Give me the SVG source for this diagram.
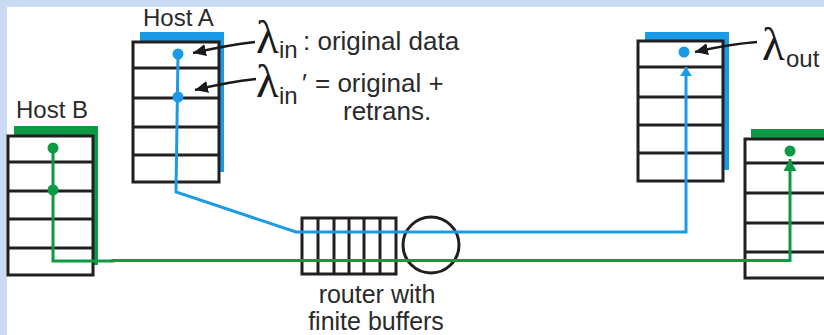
<svg xmlns="http://www.w3.org/2000/svg" width="824" height="335" viewBox="0 0 824 335">
<style>
.box{fill:#fff;stroke:#231f20;stroke-width:3}
.row{stroke:#231f20;stroke-width:3}
.lbl{font-family:"Liberation Sans",Arial,sans-serif;fill:#2a2a2a}
.lam{font-family:"Liberation Serif","Times New Roman",serif;fill:#1a1a1a}
.blue{fill:none;stroke:#1b9be6;stroke-width:3}
.green{fill:none;stroke:#0e9a45;stroke-width:3}
.blk{fill:none;stroke:#1a1a1a;stroke-width:2.5}
</style>
<defs>
<marker id="ab" markerUnits="userSpaceOnUse" markerWidth="14" markerHeight="12" refX="13" refY="6" orient="auto"><path d="M0,0 L13,6 L0,12 Z" fill="#1a1a1a"/></marker>
<marker id="ag" markerUnits="userSpaceOnUse" markerWidth="13" markerHeight="14" refX="12" refY="6.5" orient="auto"><path d="M0,0 L12,6.5 L0,13 Z" fill="#0e9a45"/></marker>
<marker id="abl" markerUnits="userSpaceOnUse" markerWidth="10" markerHeight="12" refX="9" refY="6" orient="auto"><path d="M0,0 L9,6 L0,12 Z" fill="#1b9be6"/></marker>
</defs>
<rect x="0" y="0" width="824" height="335" fill="#c8daf4"/>
<rect x="7" y="7" width="817" height="328" fill="#ffffff"/>

<g id="hostA">
<rect x="140" y="32" width="84" height="140" fill="#1b9be6"/>
<rect class="box" x="133" y="42" width="86" height="140"/>
<path class="row" d="M133,68H219M133,98H219M133,127H219M133,155H219"/>
<text class="lbl" x="143" y="26" font-size="24">Host A</text>
</g>

<g id="hostB">
<rect x="14" y="126" width="84" height="139" fill="#0e9a45"/>
<rect class="box" x="8" y="136" width="85" height="139"/>
<path class="row" d="M8,162H93M8,191H93M8,219H93M8,248H93"/>
<text class="lbl" x="16" y="118" font-size="24">Host B</text>
</g>

<g id="hostD">
<rect x="645" y="32" width="84" height="138" fill="#1b9be6"/>
<rect class="box" x="638" y="41" width="85" height="140"/>
<path class="row" d="M638,67H723M638,97H723M638,125H723M638,153H723"/>
</g>

<g id="hostC">
<rect x="751" y="129" width="90" height="140" fill="#0e9a45"/>
<rect class="box" x="745" y="139" width="100" height="139"/>
<path class="row" d="M745,163H824M745,193H824M745,223H824M745,252H824"/>
</g>

<g id="router">
<rect class="box" x="302" y="218" width="94" height="56"/>
<path class="row" d="M318,218V274M334,218V274M349,218V274M364,218V274M380,218V274"/>
<circle cx="431" cy="245" r="28" fill="#fff" stroke="#231f20" stroke-width="3"/>
<text class="lbl" x="377" y="303" font-size="25" text-anchor="middle">router with</text>
<text class="lbl" x="376" y="330" font-size="25" text-anchor="middle">finite buffers</text>
</g>

<g id="labels">
<text x="256" y="53"><tspan class="lam" font-size="47">λ</tspan><tspan class="lbl" x="279" y="58" font-size="24">in</tspan><tspan class="lbl" x="303" y="50" font-size="26">: original data</tspan></text>
<text x="256" y="97"><tspan class="lam" font-size="47">λ</tspan><tspan class="lbl" x="279" y="104" font-size="24">in</tspan><tspan class="lbl" x="302" y="92" font-size="26">′</tspan><tspan class="lbl" x="315" y="92" font-size="26">= original +</tspan></text>
<text class="lbl" x="343" y="120" font-size="26">retrans.</text>
<text x="762" y="60"><tspan class="lam" font-size="47">λ</tspan><tspan class="lbl" x="786" y="67" font-size="24">out</tspan></text>
</g>

<g id="connectors">
<polyline class="blue" points="178,54 176,192 296,232 686,232 686,67" marker-end="url(#abl)"/>
<circle cx="178" cy="54" r="5.5" fill="#1b9be6"/>
<circle cx="178" cy="97" r="5.5" fill="#1b9be6"/>
<circle cx="684" cy="52" r="5.5" fill="#1b9be6"/>
<polyline class="green" points="53,148 53,261 113,261 113,260.5 790,260.5 790,159" marker-end="url(#ag)"/>
<circle cx="53" cy="148" r="5.5" fill="#0e9a45"/>
<circle cx="53" cy="190" r="5.5" fill="#0e9a45"/>
<circle cx="790" cy="151" r="5.5" fill="#0e9a45"/>
<path class="blk" d="M255,42 Q228,45 193,53" marker-end="url(#ab)"/>
<path class="blk" d="M256,79 Q228,82 195,90" marker-end="url(#ab)"/>
<path class="blk" d="M757,42 Q730,44 695,52" marker-end="url(#ab)"/>
</g>
</svg>
